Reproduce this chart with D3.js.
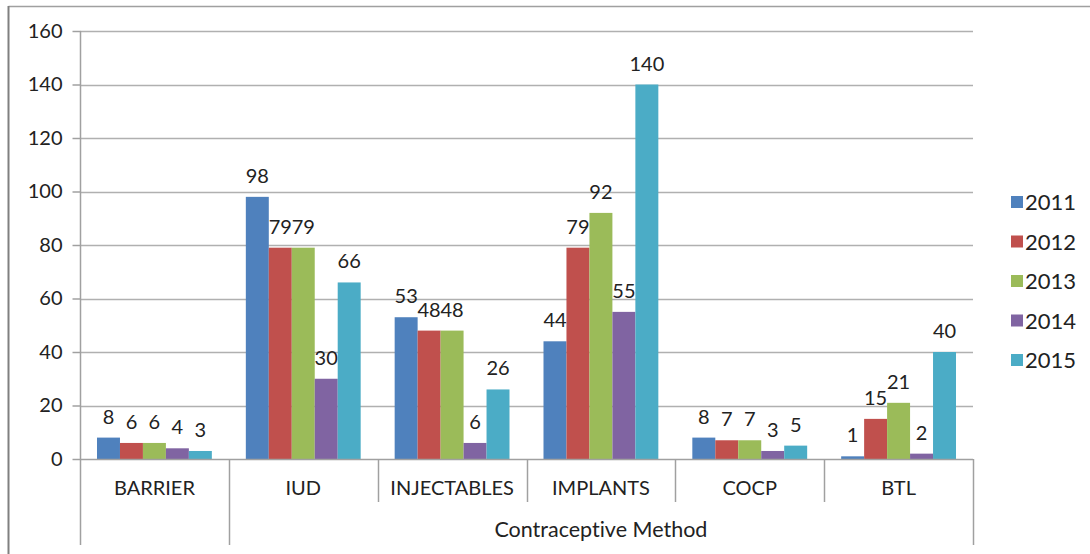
<!DOCTYPE html>
<html>
<head>
<meta charset="utf-8">
<script src="https://cdn.jsdelivr.net/npm/d3@7"></script>
<style>
  html, body { margin: 0; padding: 0; background: #fff; }
  svg { display: block; }
  text { font-family: Lato, "Open Sans", sans-serif; fill: #222; font-variant-ligatures: none; }
</style>
</head>
<body>
<svg id="chart" width="1090" height="554"></svg>
<script>
// Contraceptive method uptake by year
const categories = ["BARRIER", "IUD", "INJECTABLES", "IMPLANTS", "COCP", "BTL"];
const years = ["2011", "2012", "2013", "2014", "2015"];
const values2011 = [8, 98, 53, 44, 8, 1];
const values2012 = [6, 79, 48, 79, 7, 15];
const values2013 = [6, 79, 48, 92, 7, 21];
const values2014 = [4, 30, 6, 55, 3, 2];
const values2015 = [3, 66, 26, 140, 5, 40];
const yTicks = [0, 20, 40, 60, 80, 100, 120, 140, 160];
const groupTitle = "Contraceptive Method";
const colors = ["#4F81BD", "#C0504D", "#9BBB59", "#8064A2", "#4BACC6"];

const seriesValues = [values2011, values2012, values2013, values2014, values2015];

const svg = d3.select("#chart");
const plotLeft = 80, plotRight = 973, plotTop = 31, plotBottom = 459;

// frame
svg.append("line").attr("x1", 8.5).attr("x2", 1090).attr("y1", 6.5).attr("y2", 6.5)
  .attr("stroke", "#a0a0a0").attr("stroke-width", 1.5);
svg.append("line").attr("x1", 8.5).attr("x2", 8.5).attr("y1", 6).attr("y2", 554)
  .attr("stroke", "#808080").attr("stroke-width", 2);

const y = d3.scaleLinear().domain([0, 160]).range([plotBottom, plotTop]);
const x0 = d3.scaleBand().domain(categories).range([plotLeft, plotRight]).paddingInner(0).paddingOuter(0);
const x1 = d3.scaleBand().domain(years).range([0, x0.bandwidth()]).paddingOuter(0.74).paddingInner(0);

// gridlines
svg.append("g").selectAll("line").data(yTicks.filter(d => d > 0)).join("line")
  .attr("x1", plotLeft).attr("x2", plotRight)
  .attr("y1", d => Math.round(y(d)) + 0.5).attr("y2", d => Math.round(y(d)) + 0.5)
  .attr("stroke", "#b0b0b0").attr("stroke-width", 1.5);

// y axis
const yAxis = d3.axisLeft(y).tickValues(yTicks).tickSize(8).tickPadding(10);
const gy = svg.append("g").attr("transform", `translate(${plotLeft + 0.5},0)`).call(yAxis);
gy.select(".domain").remove();
gy.selectAll(".tick line").attr("stroke", "#a0a0a0").attr("stroke-width", 1.5);
gy.selectAll(".tick text").style("font-size", "20px").style("fill", "#222")
  .style("font-family", "Lato, 'Open Sans', sans-serif");

// bars
const groups = svg.append("g").selectAll("g").data(categories).join("g")
  .attr("transform", d => `translate(${x0(d)},0)`);

groups.each(function(cat, ci) {
  const g = d3.select(this);
  const data = years.map((yr, si) => ({ yr, si, v: seriesValues[si][ci] }));
  g.selectAll("rect").data(data).join("rect")
    .attr("x", d => x1(d.yr))
    .attr("width", x1.bandwidth())
    .attr("y", d => y(d.v))
    .attr("height", d => y(0) - y(d.v))
    .attr("fill", d => colors[d.si]);
  g.selectAll("text").data(data).join("text")
    .attr("x", d => x1(d.yr) + x1.bandwidth() / 2)
    .attr("y", d => y(d.v) - 14)
    .attr("text-anchor", "middle")
    .style("font-size", "20px")
    .text(d => d.v);
});

// x axis baseline and category separators
svg.append("line").attr("x1", plotLeft).attr("x2", plotRight).attr("y1", plotBottom + 0.5).attr("y2", plotBottom + 0.5)
  .attr("stroke", "#a0a0a0").attr("stroke-width", 1.5);
svg.append("line").attr("x1", plotLeft + 0.5).attr("x2", plotLeft + 0.5).attr("y1", plotTop).attr("y2", 545)
  .attr("stroke", "#a0a0a0").attr("stroke-width", 1.5);

const edges = categories.map(c => x0(c)).concat([plotRight]);
svg.append("g").selectAll("line").data(edges.slice(1)).join("line")
  .attr("x1", d => Math.round(d) + 0.5).attr("x2", d => Math.round(d) + 0.5)
  .attr("y1", plotBottom)
  .attr("y2", (d, i) => (i === 0 || i === edges.length - 2) ? 545 : 502)
  .attr("stroke", "#a0a0a0").attr("stroke-width", 1.5);

svg.append("g").selectAll("text").data(categories).join("text")
  .attr("x", d => x0(d) + x0.bandwidth() / 2)
  .attr("y", 495)
  .attr("text-anchor", "middle")
  .style("font-size", "20px")
  .text(d => d);

svg.append("text")
  .attr("x", (x0(categories[1]) + plotRight) / 2)
  .attr("y", 537)
  .attr("text-anchor", "middle")
  .style("font-size", "21.5px")
  .text(groupTitle);

// legend
const legend = svg.append("g").selectAll("g").data(years).join("g")
  .attr("transform", (d, i) => `translate(1011,${202 + i * 39.5})`);
legend.append("rect").attr("x", 0).attr("y", -6).attr("width", 12).attr("height", 12)
  .attr("fill", (d, i) => colors[i]);
legend.append("text").attr("x", 14).attr("y", 8).style("font-size", "22px").text(d => d);
</script>
</body>
</html>
